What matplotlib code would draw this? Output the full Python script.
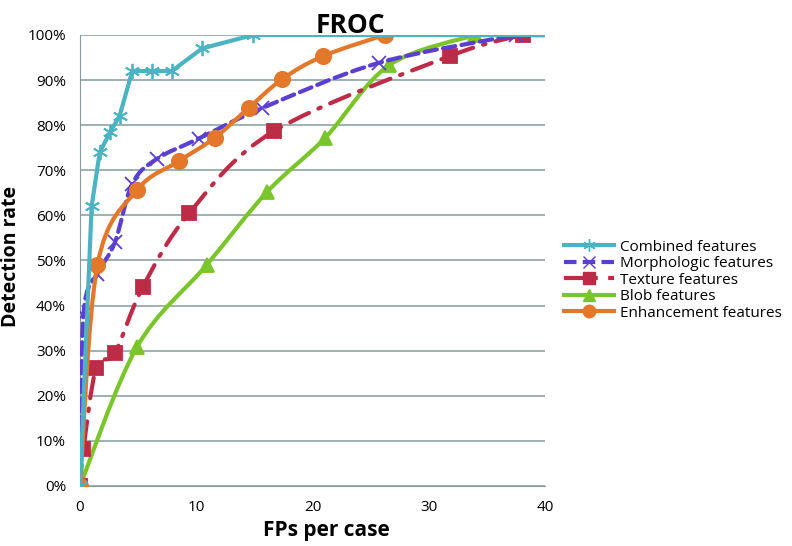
import numpy as np
import matplotlib.pyplot as plt
from matplotlib.path import Path
from matplotlib.patches import PathPatch
from matplotlib.lines import Line2D
from matplotlib.ticker import FuncFormatter

plt.rcParams['font.family'] = ['Open Sans', 'DejaVu Sans']

# data
comb_x = [0, 1.0, 1.7, 2.6, 3.4, 4.5, 6.2, 7.9, 10.5, 14.9]
comb_y = [0, 62, 74, 78.5, 82, 92, 92, 92, 97, 100]

morph_x = [0, 0.3, 1.5, 3.0, 4.5, 6.6, 10.2, 15.7, 25.7, 37.5]
morph_y = [0, 38, 47, 54, 67, 72.5, 77, 83.8, 93.8, 100]

tex_x = [0, 0.3, 1.4, 3.0, 5.4, 9.4, 16.7, 31.8, 38.1]
tex_y = [0, 8.2, 26.2, 29.5, 44.1, 60.5, 78.7, 95.3, 100]

blob_x = [0, 4.9, 10.9, 16.1, 21.1, 26.6, 34.0]
blob_y = [0, 30.8, 49, 65.2, 77.2, 93.3, 100]

enh_x = [0, 1.5, 4.9, 8.5, 11.6, 14.5, 17.4, 20.9, 26.2]
enh_y = [0, 49, 65.6, 72, 77.2, 83.8, 90.2, 95.3, 100]

labels = ['Combined features', 'Morphologic features', 'Texture features',
          'Blob features', 'Enhancement features']

x_end = 40

fig = plt.figure(figsize=(7.92, 5.46), dpi=100)
ax = fig.add_axes([0.101, 0.110, 0.587, 0.826])


def smooth_path(xs, ys):
    # Excel-like smoothed line as cubic bezier segments
    p = np.column_stack([xs, ys]).astype(float)
    n = len(p)
    verts = [p[0]]
    codes = [Path.MOVETO]
    for i in range(n - 1):
        p0 = p[i - 1] if i > 0 else p[i]
        p1 = p[i]
        p2 = p[i + 1]
        p3 = p[i + 2] if i + 2 < n else p[i + 1]
        c1 = p1 + (p2 - p0) / 6.0
        c2 = p2 - (p3 - p1) / 6.0
        verts += [c1, c2, p2]
        codes += [Path.CURVE4] * 3
    return Path(verts, codes)


def draw(xs, ys, color, ls, lw, marker, ms, smooth, zo):
    lx = list(xs) + [x_end]
    ly = list(ys) + [ys[-1]]
    if smooth:
        patch = PathPatch(smooth_path(lx[:-1], ly[:-1]), facecolor='none',
                          edgecolor=color, lw=lw, linestyle=ls, zorder=zo,
                          capstyle='round')
        ax.add_patch(patch)
        ax.plot(lx[-2:], ly[-2:], color=color, lw=lw, ls=ls, zorder=zo)
    else:
        ax.plot(lx, ly, color=color, lw=lw, ls=ls, zorder=zo)
    ax.plot(xs, ys, ls='none', marker=marker, ms=ms, color=color,
            mec=color, mew=1.3, zorder=zo + 0.5)


c_comb = '#4BB3C1'
c_morph = '#5B3FD0'
c_tex = '#BE2B47'
c_blob = '#7AC52C'
c_enh = '#E3782B'

dashdot = (0, (5, 2.5, 0.6, 2.5))
draw(comb_x, comb_y, c_comb, '-', 3, (6, 2, 0), 11, False, 6)
draw(tex_x, tex_y, c_tex, dashdot, 3, 's', 10.5, True, 3)
draw(morph_x, morph_y, c_morph, (0, (3, 1.5)), 3, 'x', 10, True, 4)
draw(blob_x, blob_y, c_blob, '-', 3, '^', 10, True, 2)
draw(enh_x, enh_y, c_enh, '-', 3, 'o', 11, True, 5)

ax.set_xlim(0, 40)
ax.set_ylim(0, 100)
ax.set_xticks([0, 10, 20, 30, 40])
ax.set_yticks(np.arange(0, 101, 10))
ax.yaxis.set_major_formatter(FuncFormatter(lambda v, p: '%d%%' % v))
ax.tick_params(labelsize=11, length=0)
ax.tick_params(axis='y', pad=10)
ax.tick_params(axis='x', pad=10)
ax.yaxis.grid(True, color='#8FA3A3', lw=1.2)
ax.set_axisbelow(True)
for s in ['top', 'right']:
    ax.spines[s].set_visible(False)
ax.spines['left'].set_color('#8A9A9A')
ax.spines['bottom'].set_color('#8A9A9A')

fig.text(0.443, 0.978, 'FROC', fontsize=19, fontweight='bold',
         ha='center', va='top')
ax.set_xlabel('FPs per case', fontsize=15, fontweight='bold', labelpad=6)
ax.xaxis.set_label_coords(0.53, -0.075)
fig.text(0.014, 0.531, 'Detection rate', fontsize=14, fontweight='bold',
         rotation=90, ha='center', va='center')

handles = [
    Line2D([], [], color=c_comb, lw=3, marker=(6, 2, 0), ms=9),
    Line2D([], [], color=c_morph, lw=3, ls=(0, (3, 1.5)), marker='x', ms=9),
    Line2D([], [], color=c_tex, lw=3, ls=dashdot, marker='s', ms=9),
    Line2D([], [], color=c_blob, lw=3, marker='^', ms=9),
    Line2D([], [], color=c_enh, lw=3, marker='o', ms=9),
]
fig.legend(handles, labels, loc='upper left', bbox_to_anchor=(0.702, 0.575),
           frameon=False, fontsize=11, handlelength=3.3, labelspacing=0.1,
           borderpad=0, handletextpad=0.4)

plt.savefig('out.png', dpi=100)
